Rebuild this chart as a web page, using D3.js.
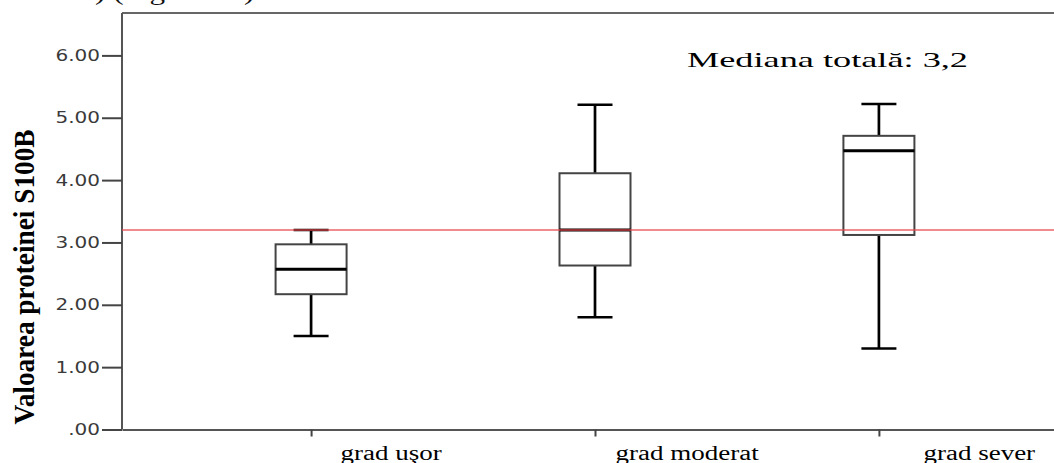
<!DOCTYPE html>
<html>
<head>
<meta charset="utf-8">
<script src="https://cdn.jsdelivr.net/npm/d3@7/dist/d3.min.js"></script>
<style>
  body { margin: 0; background: #fff; }
  svg { display: block; }
</style>
</head>
<body>
<div id="chart"></div>
<script>
// box plot values
const categories = ["grad uşor", "grad moderat", "grad sever"]
const whiskerLow = [1.5, 1.8, 1.3]
const q1 = [2.17, 2.63, 3.12]
const medians = [2.57, 3.2, 4.47]
const q3 = [2.97, 4.11, 4.71]
const whiskerHigh = [3.2, 5.21, 5.22]
const yTicks = [0, 1, 2, 3, 4, 5, 6]
const overallMedian = 3.2

const WIDTH = 1054, HEIGHT = 463
const LEFT = 122, BOTTOM = 429.5, RIGHT = 1068

// the source image is stretched sideways, so the text is widened to match
function stretch(sel, k) {
    sel.each(function () {
        const w = this.getComputedTextLength()
        d3.select(this).attr("textLength", w * k).attr("lengthAdjust", "spacingAndGlyphs")
    })
}

const svg = d3.select("#chart").append("svg")
    .attr("width", WIDTH)
    .attr("height", HEIGHT)

const y = d3.scaleLinear().domain([0, 6]).range([BOTTOM, 55.4])
const x = d3.scalePoint().domain(categories).range([LEFT, RIGHT]).padding(0.666)
const yTop = y(6.68)

// caption from the page above, cut off by the crop
svg.append("text")
    .attr("x", 10).attr("y", 0)
    .attr("font-family", "Liberation Serif").attr("font-size", 24)
    .attr("fill", "#111")
    .text("S100B) (Figura 25)")
    .call(stretch, 1.3)

// frame: top line and left axis line
svg.append("line")
    .attr("x1", LEFT).attr("x2", WIDTH).attr("y1", yTop).attr("y2", yTop)
    .attr("stroke", "#666").attr("stroke-width", 2)
svg.append("line")
    .attr("x1", LEFT).attr("x2", LEFT).attr("y1", yTop).attr("y2", BOTTOM)
    .attr("stroke", "#555").attr("stroke-width", 2)

// y axis
const yAxis = svg.append("g")
    .attr("transform", `translate(${LEFT},0)`)
    .call(d3.axisLeft(y)
        .tickValues(yTicks)
        .tickSize(20)
        .tickSizeOuter(0)
        .tickPadding(2)
        .tickFormat(d => d === 0 ? ".00" : d3.format(".2f")(d)))
yAxis.select(".domain").remove()
yAxis.selectAll(".tick line").attr("stroke", "#444").attr("stroke-width", 2)
yAxis.selectAll(".tick text")
    .attr("font-family", "DejaVu Sans")
    .attr("font-size", 16)
    .attr("fill", "#3a3a3a")
    .call(stretch, 1.25)

// x axis
const LABEL_DX = [29, 20, 44]
const xAxis = svg.append("g")
    .attr("transform", `translate(0,${BOTTOM})`)
    .call(d3.axisBottom(x).tickSize(7).tickSizeOuter(0))
xAxis.select(".domain").attr("stroke", "#555").attr("stroke-width", 2)
xAxis.selectAll(".tick line").attr("stroke", "#444").attr("stroke-width", 2)
xAxis.selectAll(".tick text")
    .attr("font-family", "Liberation Serif")
    .attr("font-size", 20)
    .attr("fill", "#000")
    .attr("text-anchor", "start")
    .attr("x", (d, i) => LABEL_DX[i])
    .attr("y", 460 - BOTTOM)
    .attr("dy", 0)
    .call(stretch, 1.35)

// y axis title
svg.append("text")
    .attr("transform", `translate(34,${277}) rotate(-90)`)
    .attr("text-anchor", "middle")
    .attr("font-family", "Liberation Serif")
    .attr("font-weight", "bold")
    .attr("font-size", 29)
    .attr("textLength", 295)
    .attr("lengthAdjust", "spacingAndGlyphs")
    .text("Valoarea proteinei S100B")

// boxes
const BOX_W = 71, CAP_W = 35
const boxes = svg.selectAll(".box")
    .data(categories)
    .enter().append("g")
    .attr("class", "box")
    .attr("transform", d => `translate(${x(d)},0)`)

boxes.append("line")
    .attr("y1", (d, i) => y(whiskerHigh[i])).attr("y2", (d, i) => y(q3[i]))
    .attr("stroke", "#000").attr("stroke-width", 2.7)
boxes.append("line")
    .attr("y1", (d, i) => y(q1[i])).attr("y2", (d, i) => y(whiskerLow[i]))
    .attr("stroke", "#000").attr("stroke-width", 2.7)
boxes.append("line")
    .attr("x1", -CAP_W / 2).attr("x2", CAP_W / 2)
    .attr("y1", (d, i) => y(whiskerHigh[i])).attr("y2", (d, i) => y(whiskerHigh[i]))
    .attr("stroke", "#000").attr("stroke-width", 2.5)
boxes.append("line")
    .attr("x1", -CAP_W / 2).attr("x2", CAP_W / 2)
    .attr("y1", (d, i) => y(whiskerLow[i])).attr("y2", (d, i) => y(whiskerLow[i]))
    .attr("stroke", "#000").attr("stroke-width", 2.5)
boxes.append("rect")
    .attr("x", -BOX_W / 2).attr("width", BOX_W)
    .attr("y", (d, i) => y(q3[i]))
    .attr("height", (d, i) => y(q1[i]) - y(q3[i]))
    .attr("fill", "#fff")
    .attr("stroke", "#444").attr("stroke-width", 2)
boxes.append("line")
    .attr("x1", -BOX_W / 2).attr("x2", BOX_W / 2)
    .attr("y1", (d, i) => y(medians[i])).attr("y2", (d, i) => y(medians[i]))
    .attr("stroke", "#000").attr("stroke-width", 3)

// overall median reference line
svg.append("line")
    .attr("x1", LEFT).attr("x2", WIDTH)
    .attr("y1", y(overallMedian)).attr("y2", y(overallMedian))
    .attr("stroke", "#e8484e").attr("stroke-opacity", 0.85).attr("stroke-width", 1.5)

svg.append("text")
    .attr("x", 687).attr("y", 66.7)
    .attr("font-family", "Liberation Serif")
    .attr("font-size", 22)
    .attr("fill", "#000")
    .attr("textLength", 281)
    .attr("lengthAdjust", "spacingAndGlyphs")
    .text(`Mediana totală: ${String(overallMedian).replace(".", ",")}`)
</script>
</body>
</html>
